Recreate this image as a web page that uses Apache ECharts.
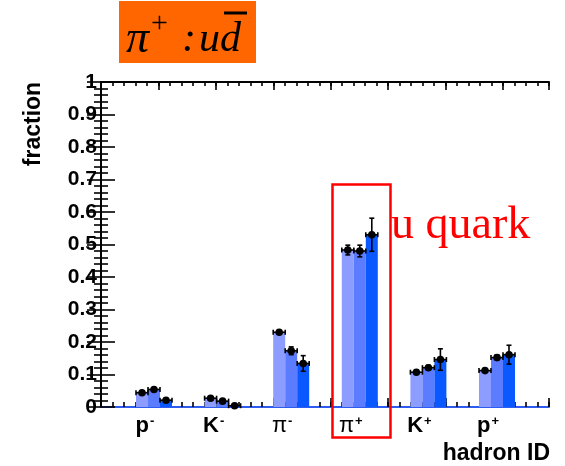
<!DOCTYPE html>
<html>
<head>
<meta charset="utf-8">
<script src="https://cdn.jsdelivr.net/npm/echarts@6/dist/echarts.min.js"></script>
<style>
  html, body { margin: 0; padding: 0; background: #ffffff; }
  #chart { width: 565px; height: 466px; }
</style>
</head>
<body>
<div id="chart"></div>
<script>
// Hadron species on the x axis
const hadrons = ['p-', 'K-', 'pi-', 'pi+', 'K+', 'p+'];

// Fraction per hadron species, three bins
const fracBin1 = [0.044, 0.027, 0.230, 0.483, 0.107, 0.112];
const fracBin2 = [0.054, 0.018, 0.173, 0.480, 0.121, 0.152];
const fracBin3 = [0.021, 0.004, 0.134, 0.530, 0.146, 0.161];

// Statistical uncertainties
const errBin1 = [0.004, 0.003, 0.004, 0.015, 0.005, 0.005];
const errBin2 = [0.004, 0.003, 0.012, 0.018, 0.007, 0.008];
const errBin3 = [0.003, 0.002, 0.024, 0.051, 0.033, 0.029];

const binColors = ['#8d9dff', '#5c7cff', '#0a58ff'];
const BAR_W = 12;

const sansBold = "'Liberation Sans', Arial, Helvetica, sans-serif";
const serif = "'Liberation Serif', 'Times New Roman', serif";

// Rich-text label for a hadron id: base symbol plus a raised charge sign
function hadronLabel(id) {
  const charge = id.slice(-1);
  const base = id.slice(0, -1);
  if (base === 'pi') return '{g|π}{s|' + charge + '}';
  return '{b|' + base + '}{s|' + charge + '}';
}

// Marker with horizontal and vertical error bars for one bin
function errorRenderer(offset) {
  return function (params, api) {
    const idx = api.value(0);
    const val = api.value(1);
    const err = api.value(2);
    const c = api.coord([idx, val]);
    const lo = api.coord([idx, val - err]);
    const hi = api.coord([idx, val + err]);
    const x = c[0] + offset;
    const y = c[1];
    const half = BAR_W / 2;
    const cap = 2.5;
    const ls = { stroke: '#000', lineWidth: 1.6 };
    const children = [
      { type: 'line', shape: { x1: x - half, y1: y, x2: x + half, y2: y }, style: ls },
      { type: 'line', shape: { x1: x - half, y1: y - cap, x2: x - half, y2: y + cap }, style: ls },
      { type: 'line', shape: { x1: x + half, y1: y - cap, x2: x + half, y2: y + cap }, style: ls },
      { type: 'line', shape: { x1: x, y1: lo[1], x2: x, y2: hi[1] }, style: ls },
      { type: 'line', shape: { x1: x - cap, y1: lo[1], x2: x + cap, y2: lo[1] }, style: ls },
      { type: 'line', shape: { x1: x - cap, y1: hi[1], x2: x + cap, y2: hi[1] }, style: ls },
      { type: 'circle', shape: { cx: x, cy: y, r: 3.8 }, style: { fill: '#000' } }
    ];
    return { type: 'group', children: children };
  };
}

const fracs = [fracBin1, fracBin2, fracBin3];
const errs = [errBin1, errBin2, errBin3];

const barSeries = fracs.map(function (vals, k) {
  return {
    name: 'bin ' + (k + 1),
    type: 'bar',
    xAxisIndex: 4,
    yAxisIndex: 2,
    data: vals,
    barWidth: BAR_W,
    barGap: '0%',
    itemStyle: { color: binColors[k] },
    silent: true
  };
});

const errSeries = fracs.map(function (vals, k) {
  return {
    name: 'bin ' + (k + 1) + ' err',
    type: 'custom',
    xAxisIndex: 4,
    yAxisIndex: 2,
    data: vals.map(function (v, i) { return [i, v, errs[k][i]]; }),
    encode: { x: 0, y: 1 },
    renderItem: errorRenderer((k - 1) * BAR_W),
    z: 5,
    silent: true
  };
});

// Frame axis helper (ticks only, no labels)
function frameX(position, interval, len, lineShow, lineColor) {
  return {
    type: 'value', gridIndex: 0, position: position,
    min: 0, max: 7.8, interval: interval,
    axisLine: { show: lineShow, onZero: false, lineStyle: { color: lineColor, width: 2 } },
    axisTick: { show: true, inside: true, length: len, lineStyle: { color: '#000', width: 1.6 } },
    axisLabel: { show: false },
    splitLine: { show: false }
  };
}

const option = {
  animation: false,
  backgroundColor: '#ffffff',
  grid: [
    { left: 101, right: 16, top: 82, bottom: 59, containLabel: false },
    { left: 119.7, right: 33.7, top: 82, bottom: 59, containLabel: false }
  ],
  xAxis: [
    frameX('bottom', 0.2, 5, true, '#2f5cf0'),
    frameX('bottom', 1, 9, false, '#000'),
    frameX('top', 0.2, 4, true, '#000'),
    frameX('top', 1, 8, false, '#000'),
    {
      type: 'category', gridIndex: 1, position: 'bottom',
      data: hadrons,
      axisLine: { show: false },
      axisTick: { show: false },
      splitLine: { show: false },
      axisLabel: {
        margin: 8,
        padding: [0, 18, 0, 0],
        formatter: hadronLabel,
        rich: {
          b: { fontFamily: sansBold, fontWeight: 'bold', fontSize: 22, color: '#000', verticalAlign: 'bottom' },
          g: { fontFamily: sansBold, fontSize: 22, color: '#000', verticalAlign: 'bottom' },
          s: { fontFamily: sansBold, fontWeight: 'bold', fontSize: 13, color: '#000', verticalAlign: 'top', padding: [0, 0, 8, 1] }
        }
      }
    }
  ],
  yAxis: [
    {
      type: 'value', gridIndex: 0, position: 'left',
      min: 0, max: 1, interval: 0.1,
      axisLine: { show: true, lineStyle: { color: '#000', width: 2 } },
      axisTick: { show: true, inside: true, length: 14, lineStyle: { color: '#000', width: 1.6 } },
      minorTick: { show: true, splitNumber: 5, length: 7, lineStyle: { color: '#000', width: 1.6 } },
      splitLine: { show: false },
      minorSplitLine: { show: false },
      axisLabel: { margin: 4, fontFamily: sansBold, fontWeight: 'bold', fontSize: 21, color: '#000' }
    },
    {
      type: 'value', gridIndex: 0, position: 'right',
      min: 0, max: 1, interval: 0.1,
      axisLine: { show: true, lineStyle: { color: '#000', width: 2 } },
      axisTick: { show: true, inside: true, length: 14, lineStyle: { color: '#000', width: 1.6 } },
      minorTick: { show: true, splitNumber: 5, length: 7, lineStyle: { color: '#000', width: 1.6 } },
      splitLine: { show: false },
      axisLabel: { show: false }
    },
    {
      type: 'value', gridIndex: 1, min: 0, max: 1,
      show: false
    }
  ],
  series: barSeries.concat(errSeries),
  graphic: [
    // title badge
    { type: 'rect', left: 119, top: 1, shape: { width: 137, height: 62 }, style: { fill: '#ff6600' }, z: 10 },
    { type: 'text', x: 126, y: 40, z: 11, style: { text: 'π', font: 'italic 46px ' + serif, fill: '#000', verticalAlign: 'middle' } },
    { type: 'text', x: 151, y: 24, z: 11, style: { text: '+', font: '30px ' + serif, fill: '#000', verticalAlign: 'middle' } },
    { type: 'text', x: 182, y: 40, z: 11, style: { text: ':', font: 'italic 42px ' + serif, fill: '#000', verticalAlign: 'middle' } },
    { type: 'text', x: 199, y: 40, z: 11, style: { text: 'ud', font: 'italic 42px ' + serif, fill: '#000', verticalAlign: 'middle' } },
    { type: 'line', z: 11, shape: { x1: 224, y1: 13, x2: 247, y2: 13 }, style: { stroke: '#000', lineWidth: 3 } },
    // axis titles
    { type: 'text', x: 34, y: 124, rotation: Math.PI / 2, z: 11, style: { text: 'fraction', font: 'bold 23px ' + sansBold, fill: '#000', align: 'center', verticalAlign: 'middle' } },
    { type: 'text', x: 550, y: 454, z: 11, style: { text: 'hadron ID', font: 'bold 23px ' + sansBold, fill: '#000', align: 'right', verticalAlign: 'middle' } },
    // highlight of the pi+ column
    { type: 'rect', left: 330, top: 182, z: 12, shape: { width: 58, height: 253 }, style: { fill: 'none', stroke: '#ff0000', lineWidth: 2.5 } },
    { type: 'text', x: 391, y: 226, z: 12, style: { text: 'u quark', font: '46px ' + serif, fill: '#ff0000', verticalAlign: 'middle' } }
  ]
};

const chart = echarts.init(document.getElementById('chart'), null, { renderer: 'canvas' });
chart.setOption(option);
</script>
</body>
</html>
